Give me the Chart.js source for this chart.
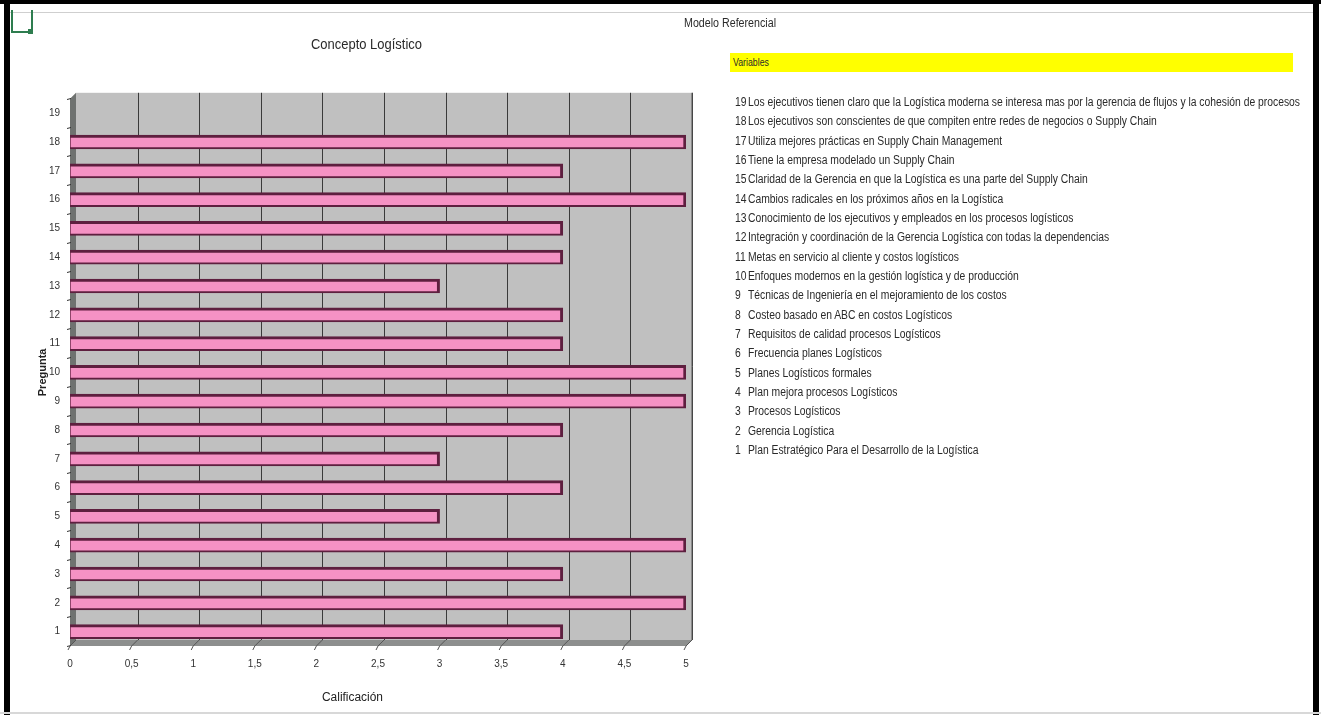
<!DOCTYPE html>
<html lang="es">
<head>
<meta charset="utf-8">
<title>Concepto Logístico</title>
<script src="https://cdn.jsdelivr.net/npm/chart.js@4.4.1/dist/chart.umd.min.js"></script>
<style>
  html, body { margin: 0; padding: 0; background: #fff; }
  body { width: 1321px; height: 715px; position: relative; overflow: hidden;
         font-family: 'Liberation Sans Narrow', 'Arial Narrow', 'Liberation Sans', sans-serif; color: #2a2a2a; }
  #chart { position: absolute; left: 0; top: 0; }
  .frame-left  { position: absolute; left: 4px; top: 0; width: 6px; height: 715px; background: #000; }
  .frame-right { position: absolute; left: 1313px; top: 0; width: 6px; height: 715px; background: #000; }
  .frame-top   { position: absolute; left: 0; top: 0; width: 1321px; height: 4px; background: #000; }
  .top-rule    { position: absolute; left: 10px; top: 12px; width: 1303px; height: 1px; background: #cfcfcf; }
  .bottom-rule { position: absolute; left: 0; top: 712px; width: 1321px; height: 2px; background: #d8d8d8; }
  .cell-icon   { position: absolute; left: 11px; top: 10px; width: 18px; height: 21px; border: 2px solid #2e7d4f; border-top: none; }
  .cell-dot    { position: absolute; left: 28px; top: 29px; width: 5px; height: 5px; background: #2e7d4f; }
  .fit   { position: absolute; white-space: nowrap; transform-origin: 0 50%; }
  .title { left: 311px; top: 35px; font-size: 15px; line-height: 18px; }
  .model { left: 684px; top: 16px; font-size: 12px; line-height: 15px; }
  .xtitle { left: 322px; top: 690px; font-size: 12px; line-height: 15px; color: #222; }
  .vars  { position: absolute; left: 730px; top: 53px; width: 563px; height: 19px; background: #ffff00; }
  .vars span { left: 3px; top: 2px; font-size: 11px; line-height: 15px; }
  .list  { position: absolute; left: 735px; top: 93px; font-size: 12px; line-height: 19.33px;
           white-space: nowrap; transform-origin: 0 0; }
  .list .n { display: inline-block; width: 15px; }
</style>
</head>
<body>
<canvas id="chart" width="1321" height="715"></canvas>
<div class="frame-top"></div>
<div class="frame-left"></div>
<div class="frame-right"></div>
<div class="top-rule"></div>
<div class="bottom-rule"></div>
<div class="cell-icon"></div>
<div class="cell-dot"></div>
<span class="fit title" id="title"></span>
<span class="fit model" id="model"></span>
<span class="fit xtitle" id="xtitle"></span>
<div class="vars"><span class="fit" id="vars"></span></div>
<div class="list" id="list"></div>
<script>
// Question numbers (category axis) and their scores
const categories = ['1','2','3','4','5','6','7','8','9','10','11','12','13','14','15','16','17','18','19'];
const scores = [4, 5, 4, 5, 3, 4, 3, 4, 5, 5, 4, 4, 3, 4, 4, 5, 4, 5, null];

// Value-axis tick labels
const xTickLabels = ['0','0,5','1','1,5','2','2,5','3','3,5','4','4,5','5'];

// Question descriptions, in the same order as the categories
const questions = [
  'Plan Estratégico Para el Desarrollo de la Logística',
  'Gerencia Logística',
  'Procesos Logísticos',
  'Plan mejora procesos Logísticos',
  'Planes Logísticos formales',
  'Frecuencia planes Logísticos',
  'Requisitos de calidad procesos Logísticos',
  'Costeo basado en ABC en costos Logísticos',
  'Técnicas de Ingeniería en el mejoramiento de los costos',
  'Enfoques modernos en la gestión logística y de producción',
  'Metas en servicio al cliente y costos logísticos',
  'Integración y coordinación de la Gerencia Logística con todas la dependencias',
  'Conocimiento de los ejecutivos y empleados en los procesos logísticos',
  'Cambios radicales en los próximos años en la Logística',
  'Claridad de la Gerencia en que la Logística es una parte del Supply Chain',
  'Tiene la empresa modelado un Supply Chain',
  'Utiliza mejores prácticas en Supply Chain Management',
  'Los ejecutivos son conscientes de que compiten entre redes de negocios o Supply Chain',
  'Los ejecutivos tienen claro que la Logística moderna se interesa mas por la gerencia de flujos y la cohesión de procesos'
];

const chartTitle = 'Concepto Logístico';
const modelTitle = 'Modelo Referencial';
const varsTitle = 'Variables';
const yTitle = 'Pregunta';
const xTitle = 'Calificación';

// Squeeze a text element horizontally to a given width (narrow-font look)
function fitWidth(el, target) {
  const w = el.getBoundingClientRect().width;
  if (w > 0) el.style.transform = 'scaleX(' + (target / w) + ')';
}

const titleEl = document.getElementById('title');
titleEl.textContent = chartTitle;
fitWidth(titleEl, 111);
const modelEl = document.getElementById('model');
modelEl.textContent = modelTitle;
fitWidth(modelEl, 92);
const varsEl = document.getElementById('vars');
varsEl.textContent = varsTitle;
fitWidth(varsEl, 36);
const xTitleEl = document.getElementById('xtitle');
xTitleEl.textContent = xTitle;
fitWidth(xTitleEl, 61);

const list = document.getElementById('list');
let longest = null;
for (let i = questions.length - 1; i >= 0; i--) {
  const row = document.createElement('div');
  const inner = document.createElement('span');
  const n = document.createElement('span');
  n.className = 'n';
  n.textContent = categories[i];
  inner.appendChild(n);
  inner.appendChild(document.createTextNode(questions[i]));
  row.appendChild(inner);
  list.appendChild(row);
  if (!longest || inner.getBoundingClientRect().width > longest.getBoundingClientRect().width) longest = inner;
}
const listScale = 565 / longest.getBoundingClientRect().width;
list.style.transform = 'scaleX(' + listScale + ')';

const FONT = "'Liberation Sans Narrow', 'Arial Narrow', 'Liberation Sans', sans-serif";
const DEPTH = 6;

// Pseudo-3D walls, floor and gridlines drawn behind the bars
const walls3d = {
  id: 'walls3d',
  beforeDraw(chart) {
    const { ctx, chartArea } = chart;
    const { left: L, right: R, top: T, bottom: B } = chartArea;
    const xs = chart.scales.x;
    const d = DEPTH;
    ctx.save();
    // back wall
    ctx.fillStyle = '#c0c0c0';
    ctx.fillRect(L + d, T - d, R - L, B - T);
    // left wall
    ctx.fillStyle = '#6f7270';
    ctx.beginPath();
    ctx.moveTo(L, T); ctx.lineTo(L + d, T - d); ctx.lineTo(L + d, B - d); ctx.lineTo(L, B);
    ctx.closePath(); ctx.fill();
    // floor
    ctx.fillStyle = '#8d8f8e';
    ctx.beginPath();
    ctx.moveTo(L, B); ctx.lineTo(L + d, B - d); ctx.lineTo(R + d, B - d); ctx.lineTo(R, B);
    ctx.closePath(); ctx.fill();
    // vertical gridlines on the back wall
    ctx.strokeStyle = '#3a3a3a';
    ctx.lineWidth = 1;
    for (let v = 0.5; v <= 5.001; v += 0.5) {
      const x = Math.round(xs.getPixelForValue(v) + d) + 0.5;
      ctx.beginPath(); ctx.moveTo(x, T - d); ctx.lineTo(x, B - d); ctx.stroke();
    }
    // slanted tick marks across the floor
    ctx.strokeStyle = '#555';
    for (let v = 0; v <= 5.001; v += 0.5) {
      const x = xs.getPixelForValue(v);
      ctx.beginPath(); ctx.moveTo(x + d, B - d); ctx.lineTo(x, B); ctx.lineTo(x - 2, B + 4); ctx.stroke();
    }
    // right edge of the floor
    ctx.beginPath(); ctx.moveTo(R + d, T - d); ctx.lineTo(R + d, B - d); ctx.lineTo(R, B); ctx.stroke();
    // small ticks on the left wall between categories
    const ys = chart.scales.y;
    ctx.strokeStyle = '#333';
    for (let i = 0; i <= categories.length; i++) {
      const y = Math.round(ys.getPixelForValue(i - 0.5)) + 0.5;
      ctx.beginPath(); ctx.moveTo(L - 3, y); ctx.lineTo(L + 1, y - 1); ctx.stroke();
    }
    ctx.restore();
  }
};

new Chart(document.getElementById('chart'), {
  type: 'bar',
  data: {
    labels: categories,
    datasets: [{
      data: scores,
      backgroundColor: '#f592c4',
      borderColor: '#5e1f3f',
      borderWidth: { top: 3, right: 3, bottom: 2, left: 1 },
      borderSkipped: false,
      barThickness: 14
    }]
  },
  options: {
    indexAxis: 'y',
    responsive: false,
    animation: false,
    devicePixelRatio: 1,
    layout: { padding: { left: 36, top: 98.8, right: 635, bottom: 7.5 } },
    plugins: { legend: { display: false }, title: { display: false }, tooltip: { enabled: false } },
    scales: {
      y: {
        type: 'category',
        reverse: true,
        afterFit(s) { s.width = 34; },
        grid: { display: false, drawTicks: false },
        border: { display: false },
        ticks: { color: '#333', padding: 10, font: { family: FONT, size: 10 } },
        title: { display: true, text: yTitle, color: '#222', padding: { top: 0, bottom: 4 },
                 font: { family: FONT, size: 11, weight: 'bold' } }
      },
      x: {
        min: 0, max: 5,
        afterFit(s) { s.height = 61.5; },
        afterBuildTicks(s) { s.ticks = xTickLabels.map((_, i) => ({ value: i * 0.5 })); },
        grid: { display: false, drawTicks: false },
        border: { display: false },
        ticks: {
          color: '#333', padding: 12, autoSkip: false, maxRotation: 0,
          font: { family: FONT, size: 10 },
          callback(value, index) { return xTickLabels[index]; }
        },
        title: { display: false }
      }
    }
  },
  plugins: [walls3d]
});
</script>
</body>
</html>
